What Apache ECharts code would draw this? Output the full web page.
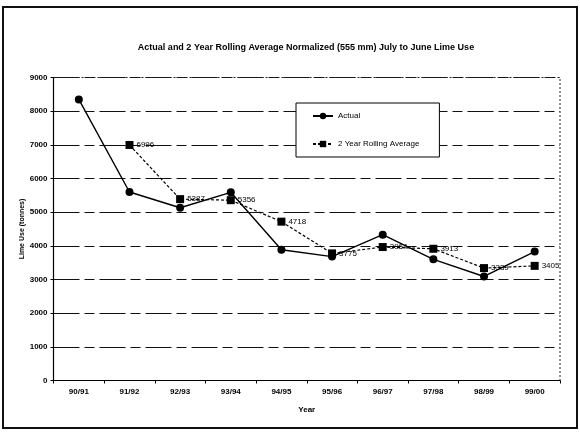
<!DOCTYPE html>
<html>
<head>
<meta charset="utf-8">
<style>
  html, body { margin: 0; padding: 0; background: #fff; }
  #chart { width: 580px; height: 434px; }
</style>
<script src="https://cdn.jsdelivr.net/npm/echarts@6/dist/echarts.min.js"></script>
</head>
<body>
<div id="chart"></div>
<script>
// Lime use per season (tonnes)
const years = ['90/91', '91/92', '92/93', '93/94', '94/95', '95/96', '96/97', '97/98', '98/99', '99/00'];
const actual = [8350, 5600, 5130, 5590, 3885, 3680, 4330, 3600, 3090, 3830];
const rollingAvg = [null, 6996, 5387, 5356, 4718, 3775, 3964, 3913, 3339, 3405];
const yTicks = [0, 1000, 2000, 3000, 4000, 5000, 6000, 7000, 8000, 9000];

const font = 'Liberation Sans, Arial, sans-serif';
const chart = echarts.init(document.getElementById('chart'), null, { renderer: 'canvas' });

chart.setOption({
  backgroundColor: '#fff',
  animation: false,
  title: {
    text: 'Actual and 2 Year Rolling Average Normalized (555 mm) July to June Lime Use',
    left: 301,
    textAlign: 'center',
    top: 38,
    textStyle: { fontFamily: font, fontSize: 9, fontWeight: 'bold', color: '#000' }
  },
  legend: {
    orient: 'vertical',
    left: 296,
    top: 103,
    itemGap: 20,
    itemWidth: 20,
    itemHeight: 8,
    padding: [9, 20, 9, 16],
    backgroundColor: '#fff',
    borderColor: '#000',
    borderWidth: 1,
    textStyle: { fontFamily: font, fontSize: 8, color: '#000' },
    data: ['Actual', '2 Year Rolling Average']
  },
  grid: { left: 53.5, right: 20, top: 77.5, bottom: 53.5, show: false },
  xAxis: {
    type: 'category',
    data: years,
    boundaryGap: true,
    name: 'Year',
    nameLocation: 'middle',
    nameGap: 25,
    nameTextStyle: { fontFamily: font, fontSize: 8, fontWeight: 'bold', color: '#000' },
    axisLine: { lineStyle: { color: '#000', width: 1.2 } },
    axisTick: { show: true, length: 3, lineStyle: { color: '#000' } },
    axisLabel: { fontFamily: font, fontSize: 8, fontWeight: 'bold', color: '#000', margin: 7 },
    splitLine: { show: false }
  },
  yAxis: {
    type: 'value',
    min: yTicks[0],
    max: yTicks[yTicks.length - 1],
    interval: 1000,
    name: 'Lime Use (tonnes)',
    nameLocation: 'middle',
    nameGap: 28,
    nameMoveOverlap: false,
    nameTextStyle: { fontFamily: font, fontSize: 7, fontWeight: 'bold', color: '#000' },
    axisLine: { show: true, lineStyle: { color: '#000', width: 1.2 } },
    axisTick: { show: true, length: 3, lineStyle: { color: '#000' } },
    axisLabel: {
      fontFamily: font, fontSize: 8, fontWeight: 'bold', color: '#000', margin: 6,
      formatter: v => String(v)
    },
    splitLine: { show: true, lineStyle: { color: '#111', width: 1.2, type: [26, 5, 10, 5] } }
  },
  series: [
    {
      name: 'Actual',
      type: 'line',
      data: actual,
      symbol: 'circle',
      symbolSize: 8,
      itemStyle: { color: '#000' },
      lineStyle: { color: '#000', width: 1.4 },
      z: 3
    },
    {
      name: '2 Year Rolling Average',
      type: 'line',
      data: rollingAvg,
      symbol: 'rect',
      symbolSize: 8,
      connectNulls: false,
      itemStyle: { color: '#000' },
      lineStyle: { color: '#000', width: 1.2, type: [3, 2] },
      label: {
        show: true,
        position: 'right',
        distance: 3,
        fontFamily: font,
        fontSize: 8,
        color: '#000'
      },
      z: 4
    }
  ]
});

// outer frame plus a dotted border along the top and right of the plot area
const rect = chart.getModel().getComponent('grid').coordinateSystem.getRect();
chart.setOption({
  graphic: [
    {
      type: 'rect',
      shape: { x: 3, y: 7, width: 574, height: 421 },
      style: { fill: 'none', stroke: '#111', lineWidth: 2 },
      silent: true
    },
    {
      type: 'polyline',
      shape: { points: [[rect.x, rect.y], [rect.x + rect.width, rect.y], [rect.x + rect.width, rect.y + rect.height]] },
      style: { stroke: '#222', lineWidth: 1, lineDash: [2, 2], fill: 'none' },
      silent: true
    }
  ]
});
</script>
</body>
</html>
